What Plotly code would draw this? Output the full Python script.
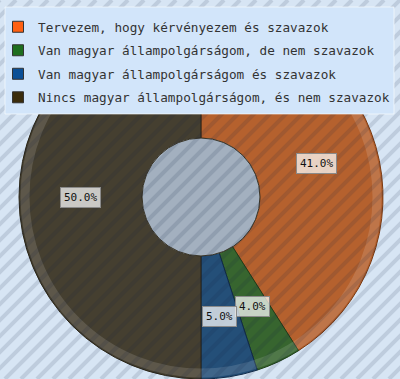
import math
import plotly.graph_objects as go

W, H = 400, 379

categories = [
    "Tervezem, hogy kérvényezem és szavazok",
    "Van magyar állampolgárságom, de nem szavazok",
    "Van magyar állampolgárságom és szavazok",
    "Nincs magyar állampolgárságom, és nem szavazok",
]
values = [41.0, 4.0, 5.0, 50.0]
labels_text = ["41.0%", "4.0%", "5.0%", "50.0%"]

slice_colors = ["#b5612e", "#37652f", "#244f78", "#453f30"]
slice_lines = ["#7a3a12", "#1f3d18", "#0f2a48", "#2a2518"]
legend_colors = ["#ff6012", "#1e6e1e", "#0a4f96", "#3a2c0c"]

# pie geometry (pixels)
cx, cy, R = 201, 197, 182
hole = 0.324

fig = go.Figure()

fig.add_trace(go.Pie(
    labels=categories,
    values=values,
    sort=False,
    direction="clockwise",
    rotation=0,
    hole=hole,
    textinfo="none",
    hoverinfo="label+percent",
    showlegend=False,
    marker=dict(colors=slice_colors, line=dict(color=slice_lines, width=1)),
    domain=dict(x=[(cx - R) / W, (cx + R) / W], y=[1 - (cy + R) / H, 1 - (cy - R) / H]),
))

# legend entries
for name, col in zip(categories, legend_colors):
    fig.add_trace(go.Scatter(
        x=[None], y=[None], mode="markers", name=name, legendgroup=name,
        marker=dict(symbol="square", size=11, color=col, line=dict(color="#333333", width=1)),
    ))

def px(x):
    return x / W

def py(y):
    return 1 - y / H

shapes = []
# hole fill
rh = R * hole
shapes.append(dict(type="circle", xref="paper", yref="paper", layer="above",
                   x0=px(cx - rh), x1=px(cx + rh), y0=py(cy + rh), y1=py(cy - rh),
                   fillcolor="#a3b0bf", line=dict(color="#3b3628", width=1)))
# outer lighter rim
rr = R - 6
shapes.append(dict(type="circle", xref="paper", yref="paper", layer="above",
                   x0=px(cx - rr), x1=px(cx + rr), y0=py(cy + rr), y1=py(cy - rr),
                   fillcolor="rgba(0,0,0,0)", line=dict(color="rgba(255,255,255,0.13)", width=9)))
# diagonal stripes over everything
period = 16
start = -H
while start < W + 10:
    shapes.append(dict(type="line", xref="paper", yref="paper", layer="above",
                       x0=px(start), y0=py(H), x1=px(start + H), y1=py(0),
                       line=dict(color="rgba(20,40,70,0.13)", width=4)))
    start += period
# legend box
shapes.append(dict(type="rect", xref="paper", yref="paper", layer="above",
                   x0=px(5), x1=px(394), y0=py(114), y1=py(7),
                   fillcolor="#d2e5fa", line=dict(color="rgba(255,255,255,0.6)", width=1)))

# value labels at ring middle
annotations = []
total = sum(values)
acc = 0.0
rmid = (R + rh) / 2
for v, t in zip(values, labels_text):
    mid = (acc + v / 2) / total * 2 * math.pi
    acc += v
    lx = cx + rmid * math.sin(mid)
    ly = cy - rmid * math.cos(mid)
    annotations.append(dict(
        x=px(lx), y=py(ly), xref="paper", yref="paper", text=t, showarrow=False,
        xanchor="center", yanchor="middle",
        font=dict(family="DejaVu Sans Mono", size=11, color="#111111"),
        bgcolor="rgba(255,255,255,0.72)", bordercolor="#8a8a8a", borderwidth=1, borderpad=3,
    ))

fig.update_layout(
    width=W, height=H,
    margin=dict(l=0, r=0, t=0, b=0, autoexpand=False),
    paper_bgcolor="#d7e5f4",
    plot_bgcolor="rgba(0,0,0,0)",
    xaxis=dict(visible=False),
    yaxis=dict(visible=False),
    shapes=shapes,
    annotations=annotations,
    legend=dict(
        x=-2 / W, y=py(12), xanchor="left", yanchor="top",
        bgcolor="rgba(0,0,0,0)", borderwidth=0,
        font=dict(family="DejaVu Sans Mono", size=12.7, color="#333333"),
        tracegroupgap=4,
    ),
)

fig.write_html("out.html", config={"displayModeBar": False},
               post_script="document.body.style.margin='0px';")
